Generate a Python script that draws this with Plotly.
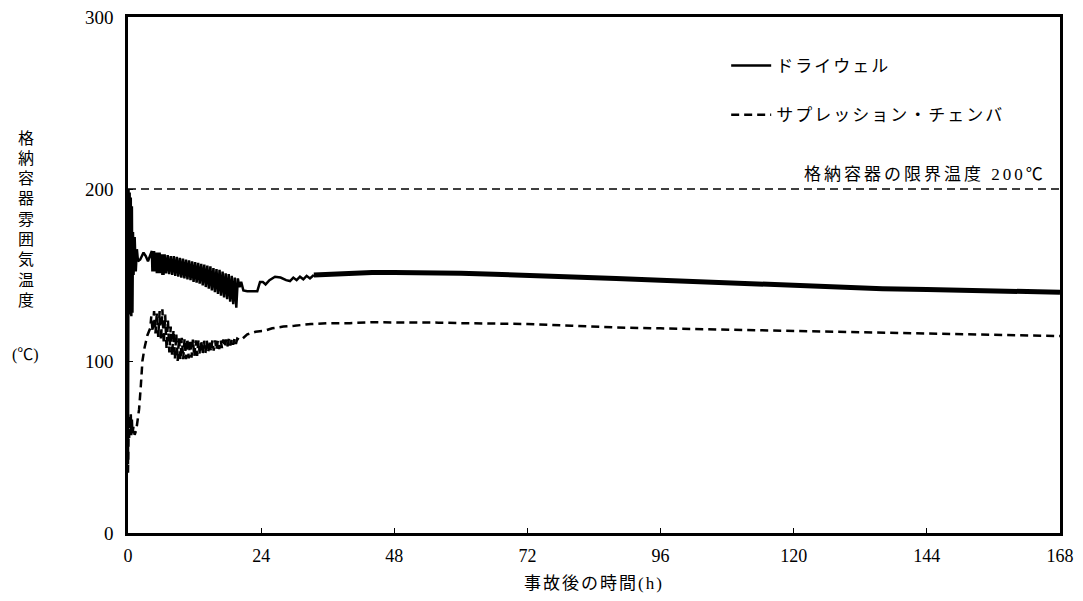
import plotly.graph_objects as go

# ---------------- data ----------------
# Drywell (ドライウェル) – early part, 0 … ~33 h (oscillating region)
dw_t_early = [0, 0.1, 0.2, 0.3, 0.4, 0.5, 0.6, 0.7, 0.8, 0.9, 1.0, 1.2, 1.4, 1.6, 1.8, 2.2, 2.8, 3.2, 3.6, 4.0,
              4.3, 4.4, 4.5, 4.6, 4.7, 4.8, 4.9, 5.0, 5.1, 5.2, 5.3, 5.4, 5.5, 5.6, 5.7, 5.8, 5.9, 6.0, 6.1, 6.2, 6.3, 6.4,
              6.6, 6.87, 7.15, 7.42, 7.7, 7.97, 8.25, 8.52, 8.8, 9.07, 9.35, 9.62, 9.9, 10.17, 10.45, 10.72,
              11.0, 11.27, 11.55, 11.82, 12.1, 12.37, 12.65, 12.92, 13.2, 13.47, 13.75, 14.02, 14.3, 14.57,
              14.85, 15.12, 15.4, 15.67, 15.95, 16.22, 16.5, 16.77, 17.05, 17.32, 17.6, 17.87, 18.15, 18.42,
              18.7, 18.97, 19.25, 19.52,
              19.8, 20.1, 20.4, 20.8, 21.5, 23.3, 23.8, 24.3, 24.8, 25.5, 26.5, 27.5, 28.5, 29.2, 29.8, 30.4,
              31.0, 31.6, 32.2, 32.8, 33.5]
dw_v_early = [40, 200, 130, 198, 127, 195, 126, 190, 128, 175, 150, 172, 152, 165, 158, 159, 163, 161, 158, 162,
              164, 152, 164, 152, 164, 152, 163, 152, 163, 151, 163, 151, 163, 151, 163, 151, 162, 151, 162, 150, 162, 150,
              162, 151, 161.5, 150.5, 161, 150, 161, 149.5, 160.5, 149, 160, 148.5, 159.5, 148, 159, 147.5,
              158.5, 147, 158, 146, 157.5, 145.5, 157, 145, 156.5, 144, 156, 143, 155.5, 142,
              155, 141, 154, 140, 153.5, 139, 153, 138, 152, 137, 151, 136, 150.5, 134.5,
              149.5, 133, 148.5, 131,
              148, 143, 146, 141, 140.5, 140.5, 146, 146, 144.5, 147, 149, 148.5, 147, 146.5, 148.5, 147,
              149, 147.5, 149.5, 148, 150]

# Drywell – later part (thick band), ~33 … 168 h
dw_t_late = [33.5, 36, 40, 44, 48, 52, 56, 60, 66, 72, 80, 88, 96, 104, 112, 120, 128, 136, 144, 152, 160, 168]
dw_v_late = [150, 150.5, 151, 151.5, 151.5, 151.5, 151.5, 151, 150.5, 150, 149, 148, 147, 146, 144.5, 143.5,
             142.5, 142, 141.5, 141, 140.5, 140]

# Suppression chamber (サプレッション・チェンバ)
sc_t = [0, 0.1, 0.2, 0.3, 0.4, 0.5, 0.6, 0.7, 0.8, 1.0, 1.2, 1.5, 2.0, 2.3, 2.6, 3.0, 3.5, 4.0,
        4.2, 4.45, 4.7, 4.95, 5.2, 5.45, 5.7, 5.95, 6.2, 6.45, 6.7, 6.95, 7.2, 7.45, 7.7, 7.95, 8.2, 8.45,
        8.7, 8.95, 9.2, 9.45, 9.7, 9.95, 10.2, 10.45, 10.7, 10.95, 11.2, 11.45, 11.7, 11.95, 12.2, 12.45,
        12.7, 12.95, 13.2, 13.45, 13.7, 13.95, 14.2, 14.45, 14.7, 14.95, 15.2, 15.45, 15.7, 15.95, 16.2,
        16.45, 16.7, 16.95, 17.2, 17.45, 17.7, 17.95, 18.2, 18.45, 18.7, 18.95, 19.2, 19.45, 19.7,
        20.3, 21.5, 23, 24.5, 26, 28, 30, 33, 36, 40, 44, 48, 52, 56, 60, 66, 72, 80, 88, 96, 104, 112,
        120, 128, 136, 144, 152, 160, 168]
sc_v = [35, 60, 55, 68, 57, 70, 56, 66, 58, 62, 57, 60, 72, 85, 100, 108, 115, 119,
        126, 117, 129, 116, 128, 114, 129, 112, 130, 110, 127, 107, 124, 105, 120, 103, 118, 101,
        116, 100, 114, 100.5, 113.5, 101, 113, 101, 113, 101.5, 112.5, 102, 112.5, 102.5, 112, 103,
        112, 103.5, 112, 104, 112, 104.5, 112, 105, 112, 105.5, 112, 106, 112, 106.5, 112,
        107, 112, 107.5, 112.5, 108, 112.5, 108.5, 113, 109, 113, 109.5, 113, 110, 113,
        112, 115.5, 117, 117.5, 119, 120, 120.5, 121.5, 122, 122, 122.5, 122.5, 122.5, 122.3, 122, 121.8,
        121.5, 120.5, 119.5, 119, 118.5, 118, 117.5, 117, 116.5, 115.8, 115.2, 114.8, 114.5]

limit_t = [0, 168]
limit_v = [200, 200]

x_ticks = [0, 24, 48, 72, 96, 120, 144, 168]
y_ticks = [0, 100, 200, 300]

y_title_chars = list("格納容器雰囲気温度")
y_title_unit = "(℃)"

FONT = "Liberation Serif, Noto Sans CJK JP, serif"


def spaced(s, px=2):
    return '<span style="letter-spacing:%dpx">%s</span>' % (px, s)


# page body has an 8px margin; plot area must land at x 127.5–1060, y 17–533
W, H = 1067, 585
L, R, T, B = 119.5, 15, 9, 60
PW, PH = W - L - R, H - T - B


def px_to_paper_x(px):
    return (px - 8 - L) / PW


def py_to_paper_y(py):
    return (H - B + 8 - py) / PH


fig = go.Figure()

fig.add_trace(go.Scatter(x=limit_t, y=limit_v, mode="lines",
                         line=dict(color="black", width=1.6, dash="8px,5px"),
                         showlegend=False, hoverinfo="skip"))

fig.add_trace(go.Scatter(x=dw_t_early, y=dw_v_early, mode="lines", name=spaced("ドライウェル", 2),
                         line=dict(color="black", width=2.5), legendgroup="dw"))
fig.add_trace(go.Scatter(x=dw_t_late, y=dw_v_late, mode="lines", name="ドライウェル",
                         line=dict(color="black", width=5), legendgroup="dw", showlegend=False))

fig.add_trace(go.Scatter(x=sc_t, y=sc_v, mode="lines", name=spaced("サプレッション・チェンバ", 2),
                         line=dict(color="black", width=2.5, dash="8px,5px"), legendgroup="sc"))

fig.update_layout(
    width=W, height=H,
    margin=dict(l=L, r=R, t=T, b=B, pad=0),
    plot_bgcolor="white", paper_bgcolor="white",
    font=dict(family=FONT, size=17, color="black"),
    showlegend=True,
    legend=dict(x=px_to_paper_x(726), y=py_to_paper_y(48), xanchor="left", yanchor="top",
                bgcolor="rgba(0,0,0,0)", font=dict(size=17, family=FONT),
                traceorder="grouped", tracegroupgap=24, itemwidth=40),
    xaxis=dict(range=[0, 168], tickvals=x_ticks, ticktext=[str(v) for v in x_ticks],
               ticks="inside", ticklen=5, tickwidth=1, tickcolor="black",
               showline=True, linewidth=2.5, linecolor="black", mirror=True,
               showgrid=False, zeroline=False, automargin=False,
               tickfont=dict(size=18), ticklabeloverflow="allow",
               title=dict(text=spaced("事故後の時間(h)", 2), standoff=12, font=dict(size=17)),
               ticklabelstandoff=5),
    yaxis=dict(range=[0, 300], tickvals=y_ticks, ticktext=[str(v) for v in y_ticks],
               ticks="inside", ticklen=5, tickwidth=1, tickcolor="black",
               showline=True, linewidth=2.5, linecolor="black", mirror=True,
               showgrid=False, zeroline=False, automargin=False,
               tickfont=dict(size=19), ticklabelstandoff=8, ticklabeloverflow="allow"),
)

for i, ch in enumerate(y_title_chars):
    fig.add_annotation(text=ch, xref="paper", yref="paper",
                       x=px_to_paper_x(25), y=py_to_paper_y(138 + 20.3 * i),
                       xanchor="center", yanchor="middle",
                       showarrow=False, font=dict(size=16, family=FONT))
fig.add_annotation(text=y_title_unit, xref="paper", yref="paper",
                   x=px_to_paper_x(25), y=py_to_paper_y(355), xanchor="center", yanchor="middle",
                   showarrow=False, font=dict(size=16, family=FONT))
fig.add_annotation(text=spaced("格納容器の限界温度 200℃", 3), xref="x", yref="y",
                   x=165.8, y=208.5, xanchor="right", yanchor="middle",
                   showarrow=False, font=dict(size=17, family=FONT))

fig.write_html("out.html")
